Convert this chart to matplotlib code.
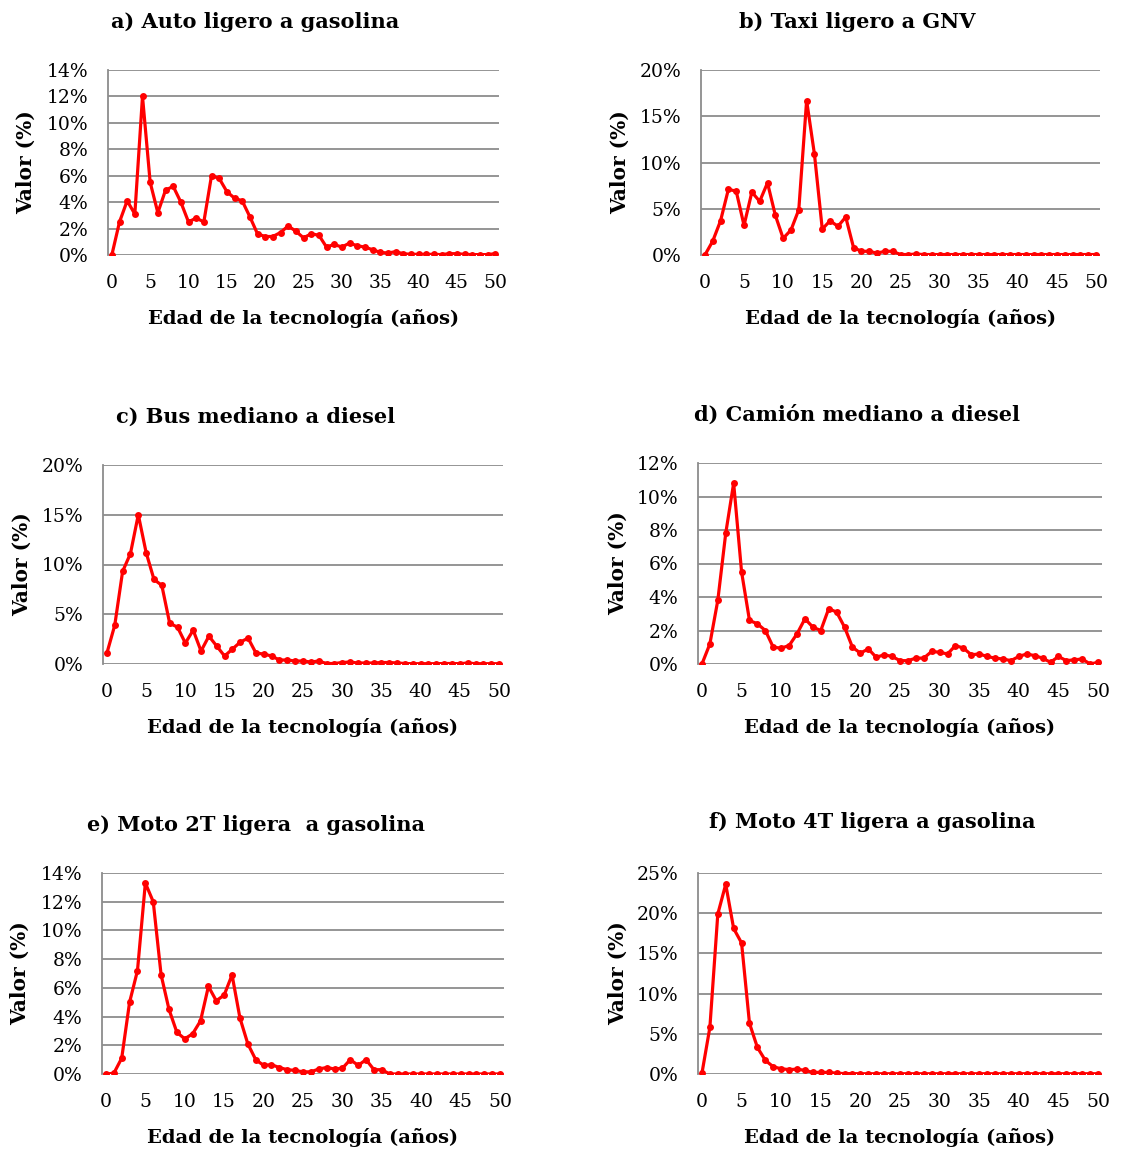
import matplotlib
matplotlib.use("Agg")
import matplotlib.pyplot as plt
from matplotlib.ticker import FuncFormatter, MultipleLocator

plt.rcParams['font.family'] = ['DejaVu Serif']

# Edad de la tecnología (años)
edad = list(range(51))

auto_gasolina = [0.0, 2.5, 4.1, 3.1, 12.0, 5.5, 3.2, 4.9, 5.2, 4.0,
                 2.5, 2.8, 2.5, 6.0, 5.8, 4.8, 4.3, 4.1, 2.9, 1.6,
                 1.4, 1.4, 1.7, 2.2, 1.8, 1.3, 1.6, 1.5, 0.6, 0.8,
                 0.6, 0.9, 0.7, 0.6, 0.4, 0.2, 0.15, 0.25, 0.1, 0.05,
                 0.05, 0.05, 0.05, 0.03, 0.1, 0.1, 0.05, 0.03, 0.03, 0.03,
                 0.1]

taxi_gnv = [0.0, 1.5, 3.7, 7.1, 6.9, 3.2, 6.8, 5.8, 7.8, 4.3,
            1.8, 2.7, 4.9, 16.7, 10.9, 2.8, 3.7, 3.1, 4.1, 0.8,
            0.4, 0.4, 0.2, 0.4, 0.4, 0.05, 0.05, 0.1, 0.05, 0.05,
            0.05, 0.05, 0.05, 0.05, 0.05, 0.05, 0.05, 0.05, 0.05, 0.05,
            0.05, 0.05, 0.05, 0.05, 0.05, 0.05, 0.05, 0.05, 0.05, 0.05,
            0.05]

bus_diesel = [1.1, 3.9, 9.3, 11.1, 15.0, 11.2, 8.5, 7.9, 4.1, 3.7,
              2.1, 3.4, 1.3, 2.8, 1.8, 0.8, 1.5, 2.2, 2.6, 1.1,
              1.0, 0.8, 0.4, 0.4, 0.3, 0.3, 0.2, 0.3, 0.05, 0.05,
              0.15, 0.2, 0.1, 0.1, 0.1, 0.15, 0.15, 0.1, 0.05, 0.03,
              0.03, 0.03, 0.03, 0.05, 0.05, 0.03, 0.1, 0.03, 0.03, 0.03,
              0.03]

camion_diesel = [0.0, 1.2, 3.8, 7.8, 10.8, 5.5, 2.6, 2.4, 2.0, 1.0,
                 0.95, 1.1, 1.8, 2.7, 2.2, 2.0, 3.3, 3.1, 2.2, 1.0,
                 0.65, 0.9, 0.4, 0.55, 0.45, 0.2, 0.2, 0.35, 0.35, 0.75,
                 0.7, 0.6, 1.1, 0.95, 0.55, 0.6, 0.45, 0.35, 0.3, 0.2,
                 0.45, 0.6, 0.5, 0.35, 0.1, 0.45, 0.2, 0.25, 0.3, 0.0,
                 0.1]

moto2t = [0.0, 0.05, 1.1, 5.0, 7.2, 13.3, 12.0, 6.9, 4.5, 2.9,
          2.45, 2.8, 3.7, 6.1, 5.1, 5.5, 6.9, 3.9, 2.1, 1.0,
          0.6, 0.65, 0.45, 0.3, 0.25, 0.15, 0.15, 0.35, 0.45, 0.35,
          0.4, 1.0, 0.6, 1.0, 0.3, 0.3, 0.0, 0.0, 0.0, 0.0,
          0.0, 0.0, 0.0, 0.0, 0.0, 0.0, 0.0, 0.0, 0.0, 0.0,
          0.0]

moto4t = [0.1, 5.8, 19.9, 23.6, 18.1, 16.3, 6.3, 3.3, 1.7, 0.9,
          0.65, 0.55, 0.6, 0.45, 0.2, 0.2, 0.2, 0.1, 0.05, 0.05,
          0.03, 0.03, 0.03, 0.03, 0.03, 0.03, 0.03, 0.03, 0.03, 0.03,
          0.03, 0.03, 0.03, 0.03, 0.03, 0.03, 0.03, 0.03, 0.03, 0.03,
          0.03, 0.03, 0.03, 0.03, 0.03, 0.03, 0.03, 0.03, 0.03, 0.03,
          0.03]

titles = ["a) Auto ligero a gasolina", "b) Taxi ligero a GNV",
          "c) Bus mediano a diesel", "d) Camión mediano a diesel",
          "e) Moto 2T ligera  a gasolina", "f) Moto 4T ligera a gasolina"]
series = [auto_gasolina, taxi_gnv, bus_diesel, camion_diesel, moto2t, moto4t]
ymax = [14, 20, 20, 12, 14, 25]
ystep = [2, 5, 5, 2, 2, 5]

W, H = 1123, 1149
fig = plt.figure(figsize=(W / 100, H / 100), dpi=100)

# axes boxes in pixels: left, top, right, bottom
boxes = [(108, 70, 499, 255), (701, 70, 1100, 255),
         (103, 465, 503, 664), (698, 463, 1102, 664),
         (102, 873, 504, 1074), (698, 873, 1102, 1074)]
title_pos = [(255, 22), (857, 22), (256, 417), (857, 415), (256, 825), (872, 822)]
ylab_x = [26, 620, 22, 618, 20, 618]

for i in range(6):
    l, t, r, b = boxes[i]
    ax = fig.add_axes([l / W, 1 - b / H, (r - l) / W, (b - t) / H])
    ax.plot(edad, series[i], color='#FF0000', lw=2.3, marker='o', ms=5,
            markeredgewidth=0)
    ax.set_xlim(-0.5, 50.5)
    ax.set_ylim(0, ymax[i])
    ax.yaxis.set_major_locator(MultipleLocator(ystep[i]))
    ax.yaxis.set_major_formatter(FuncFormatter(lambda v, p: f"{v:.0f}%"))
    ax.set_xticks(range(0, 51, 5))
    ax.grid(axis='y', color='#8c8c8c', lw=1.3)
    ax.set_axisbelow(True)
    for s in ['top', 'right', 'bottom']:
        ax.spines[s].set_visible(False)
    ax.spines['left'].set_color('#8c8c8c')
    ax.spines['left'].set_linewidth(1.3)
    ax.tick_params(length=0, labelsize=13.5)
    ax.tick_params(axis='x', pad=14)
    ax.tick_params(axis='y', pad=14)
    ax.set_xlabel("Edad de la tecnología (años)", fontsize=14, fontweight='bold',
                  labelpad=12)
    fig.text(ylab_x[i] / W, 1 - (t + b) / 2 / H, "Valor (%)", rotation=90,
             fontsize=14.5, fontweight='bold', ha='center', va='center')
    tx, ty = title_pos[i]
    fig.text(tx / W, 1 - ty / H, titles[i], fontsize=15, fontweight='bold',
             ha='center', va='center')

fig.savefig("out.png", dpi=100)
